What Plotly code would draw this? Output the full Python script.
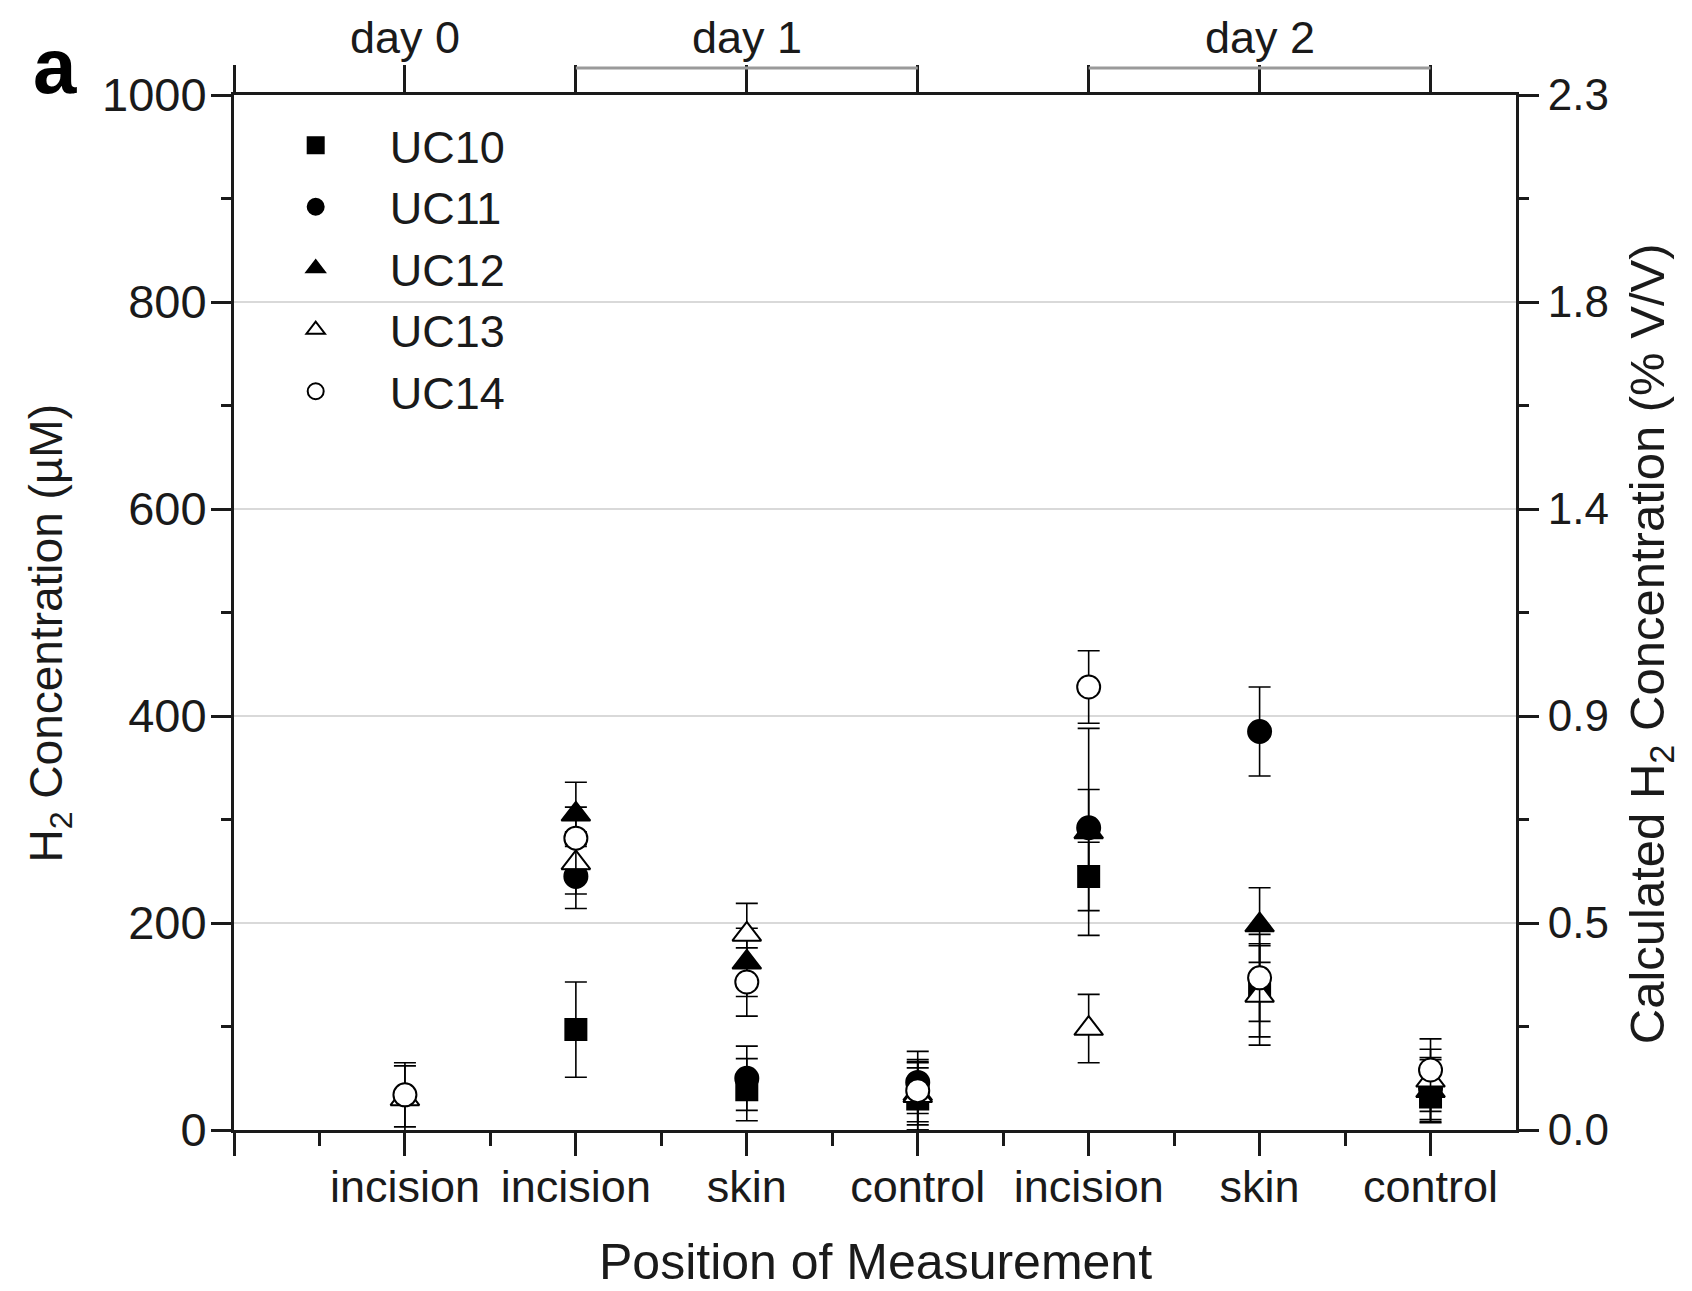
import plotly.graph_objects as go

# ---------------- data ----------------
positions = [1, 2, 3, 4, 5, 6, 7]
categories = ["incision", "incision", "skin", "control", "incision", "skin", "control"]
day_labels = ["day 0", "day 1", "day 2"]
day_label_pos = [1, 3, 6]
day_brackets = [(2, 4), (5, 7)]

uc10 = [None, 97, 39, 30, 245, 135, 32]
uc10_err = [None, 46, 30, 30, 33, 45, 25]
uc11 = [None, 245, 50, 46, 292, 385, 40]
uc11_err = [None, 31, 31, 30, 37, 43, 30]
uc12 = [None, 305, 162, 35, 288, 198, 38]
uc12_err = [None, 31, 33, 30, 100, 36, 30]
uc13 = [30, 258, 189, 33, 98, 130, 48]
uc13_err = [32, 30, 30, 33, 33, 48, 30]
uc14 = [34, 282, 143, 38, 428, 147, 58]
uc14_err = [31, 30, 33, 30, 35, 42, 30]

left_ticks = [0, 200, 400, 600, 800, 1000]
left_minor = [100, 300, 500, 700, 900]
right_ticktext = ["0.0", "0.5", "0.9", "1.4", "1.8", "2.3"]
right_max = 2.3
left_max = 1000

# ---------------- styling ----------------
FONT = "Liberation Sans, Arial, sans-serif"
AX = "#1a1a1a"

series = [
    ("UC10", uc10, uc10_err, "square", 21, "black"),
    ("UC11", uc11, uc11_err, "circle", 23, "black"),
    ("UC12", uc12, uc12_err, "triangle-up", 25, "black"),
    ("UC13", uc13, uc13_err, "triangle-up", 25, "white"),
    ("UC14", uc14, uc14_err, "circle", 23, "white"),
]

fig = go.Figure()
for name, vals, errs, sym, size, fill in series:
    fig.add_trace(go.Scatter(
        x=positions, y=vals, name=name, mode="markers",
        marker=dict(symbol=sym, size=size, color=fill,
                    line=dict(color="black", width=2)),
        error_y=dict(type="data", array=errs, visible=True,
                     color="black", thickness=1.6, width=11),
        cliponaxis=False,
    ))

# empty trace so that the top and right axes are drawn
fig.add_trace(go.Scatter(x=[None], y=[None], xaxis="x2", yaxis="y2",
                         mode="markers", showlegend=False, hoverinfo="skip"))

scale = right_max / left_max
right_vals = [v * scale for v in left_ticks]
right_minor = [v * scale for v in left_minor]

fig.update_layout(
    width=1692, height=1291,
    paper_bgcolor="white", plot_bgcolor="white",
    margin=dict(l=226, r=184, t=87, b=169),
    font=dict(family=FONT, size=44, color="#1a1a1a"),
    showlegend=True,
    legend=dict(x=0.006, y=0.986, xanchor="left", yanchor="top",
                font=dict(size=45, family=FONT), bgcolor="rgba(0,0,0,0)",
                itemwidth=138, tracegroupgap=0),
    xaxis=dict(range=[0, 7.5], showline=True, linewidth=3, linecolor=AX,
               ticks="outside", ticklen=23, tickwidth=2.5, tickcolor=AX,
               tickvals=[0] + positions, ticktext=[""] + categories,
               ticklabelstandoff=-8,
               minor=dict(tickvals=[p - 0.5 for p in positions], ticks="outside",
                          ticklen=13, tickwidth=2.5, tickcolor=AX),
               showgrid=False, zeroline=False,
               tickfont=dict(size=45)),
    xaxis2=dict(range=[0, 7.5], overlaying="x", side="top", anchor="y2",
                showline=True, linewidth=3, linecolor=AX,
                ticks="outside", ticklen=27, tickwidth=2.5, tickcolor=AX,
                tickvals=[0] + positions, showticklabels=False,
                showgrid=False, zeroline=False),
    yaxis=dict(range=[0, left_max], showline=True, linewidth=3, linecolor=AX,
               ticks="outside", ticklen=20, tickwidth=2.5, tickcolor=AX,
               tickvals=left_ticks, ticklabelstandoff=-5,
               minor=dict(tickvals=left_minor, ticks="outside", ticklen=10,
                          tickwidth=2.5, tickcolor=AX, showgrid=False),
               showgrid=True, gridcolor="#d9d9d9", gridwidth=2,
               zeroline=False, tickfont=dict(size=47)),
    yaxis2=dict(range=[0, right_max], overlaying="y", side="right", anchor="x2",
                showline=True, linewidth=3, linecolor=AX,
                ticks="outside", ticklen=20, tickwidth=2.5, tickcolor=AX,
                tickvals=right_vals, ticktext=right_ticktext,
                minor=dict(tickvals=right_minor, ticks="outside", ticklen=10,
                           tickwidth=2.5, tickcolor=AX, showgrid=False),
                showgrid=False, zeroline=False, tickfont=dict(size=44)),
)

# day labels and brackets
for lab, p in zip(day_labels, day_label_pos):
    fig.add_annotation(x=p, y=1.056, xref="x", yref="paper", text=lab,
                       showarrow=False, font=dict(size=45, family=FONT),
                       xanchor="center", yanchor="middle")
for a, b in day_brackets:
    fig.add_shape(type="line", x0=a, x1=b, y0=1.0261, y1=1.0261,
                  xref="x", yref="paper", line=dict(color="#9a9a9a", width=3))

# axis titles
fig.add_annotation(x=-0.144, y=0.48, xref="paper", yref="paper",
                   text="H<sub>2</sub> Concentration (\u00b5M)", textangle=-90,
                   showarrow=False, font=dict(size=46, family=FONT),
                   xanchor="center", yanchor="middle")
fig.add_annotation(x=1.105, y=0.47, xref="paper", yref="paper",
                   text="Calculated H<sub>2</sub> Concentration (% V/V)", textangle=-90,
                   showarrow=False, font=dict(size=49, family=FONT),
                   xanchor="center", yanchor="middle")
fig.add_annotation(x=0.5, y=-0.128, xref="paper", yref="paper",
                   text="Position of Measurement",
                   showarrow=False, font=dict(size=50, family=FONT),
                   xanchor="center", yanchor="middle")
fig.add_annotation(x=-0.14, y=1.028, xref="paper", yref="paper",
                   text="<b>a</b>", showarrow=False,
                   font=dict(size=78, family=FONT, color="black"),
                   xanchor="center", yanchor="middle")

fig.write_html("out.html")
